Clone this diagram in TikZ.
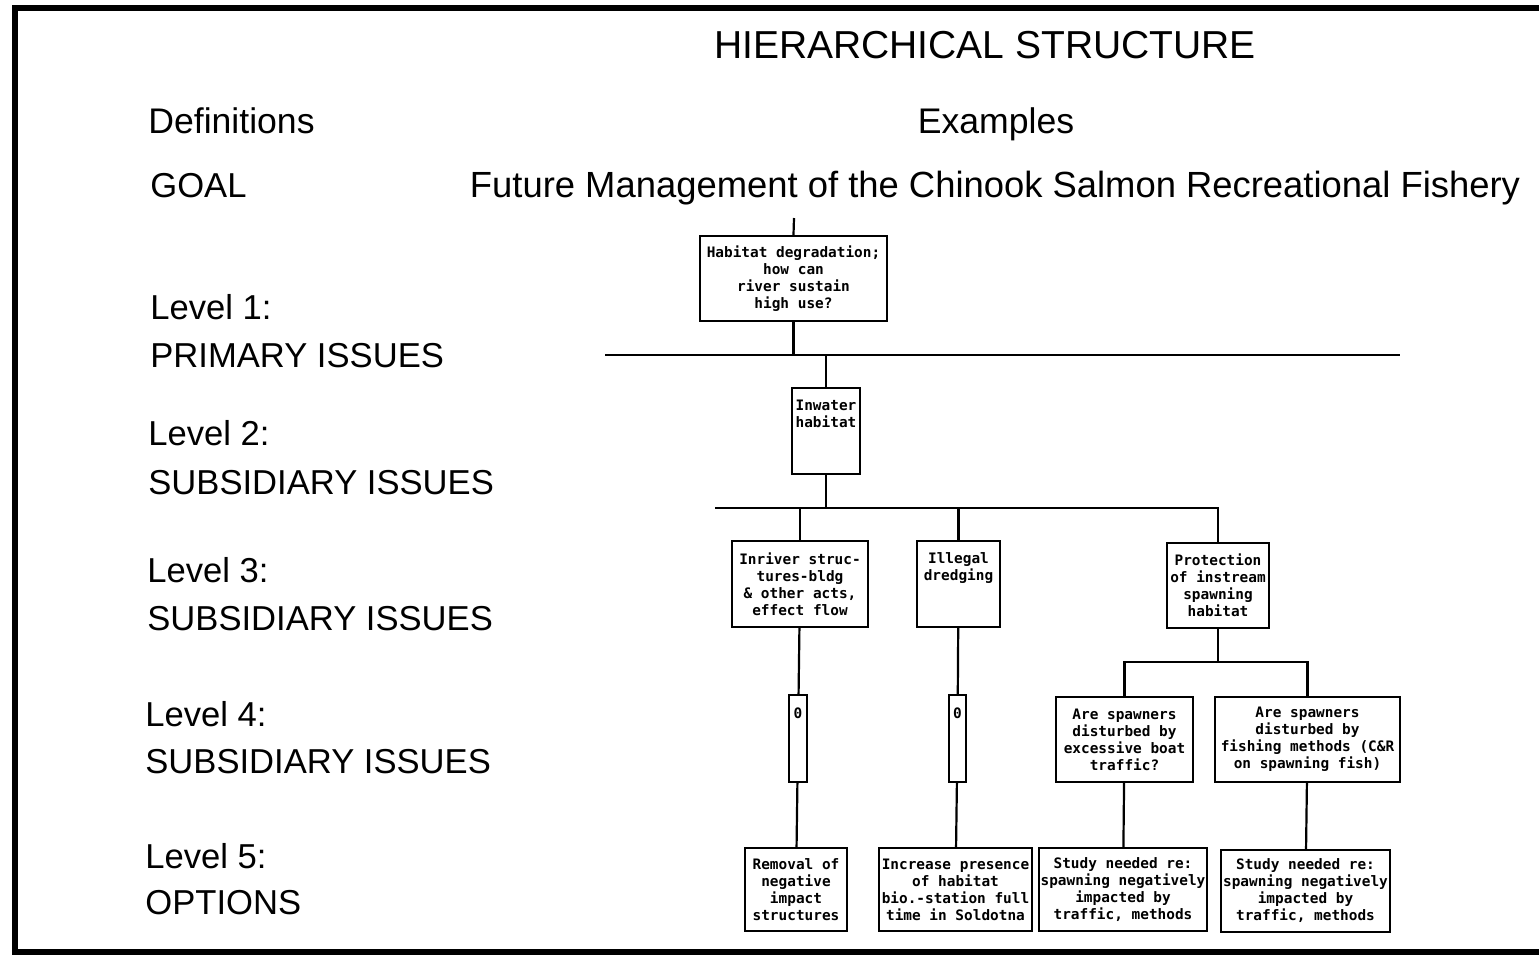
\documentclass[tikz,border=0pt]{standalone}
\usepackage{fontspec}
\setmainfont{Liberation Sans}
\newfontfamily\boxfamily{DejaVu Sans Mono}
\begin{document}
\begin{tikzpicture}[x=0.5pt,y=-0.5pt,
  box/.style={draw, line width=1.2pt, inner xsep=0.5pt, inner ysep=1pt, align=center,
    font=\boxfamily\bfseries\fontsize{7.2}{8.5}\selectfont},
  lab/.style={anchor=base west, inner sep=0pt, font=\fontsize{17.3}{20}\selectfont},
  conn/.style={line width=1.1pt},
  frame/.style={line width=2.6pt}]
\useasboundingbox (0,0) rectangle (1539,955);
% frame
\coordinate (f1) at (1539,8);
\coordinate (f2) at (15,8);
\coordinate (f3) at (15,952);
\coordinate (f4) at (1539,952);
\draw[frame] (f1) -- (f2) -- (f3) -- (f4);
% titles
\node[inner sep=0pt, anchor=base, font=\fontsize{19.5}{22}\selectfont] (title) at (985,58) {HIERARCHICAL STRUCTURE};
\node[lab, font=\fontsize{17.8}{20}\selectfont] (def) at (148,133) {Definitions};
\node[lab, anchor=base, font=\fontsize{17.8}{20}\selectfont] (ex) at (996,133) {Examples};
\node[lab] (goal) at (150,197) {GOAL};
\node[lab, anchor=base, font=\fontsize{18.2}{20}\selectfont] (goaltxt) at (995,197) {Future Management of the Chinook Salmon Recreational Fishery};
\node[lab] (l1) at (150,319) {Level 1:};
\node[lab] (l1b) at (150,367) {PRIMARY ISSUES};
\node[lab] (l2) at (148,445) {Level 2:};
\node[lab] (l2b) at (148,494) {SUBSIDIARY ISSUES};
\node[lab] (l3) at (147,582) {Level 3:};
\node[lab] (l3b) at (147,630) {SUBSIDIARY ISSUES};
\node[lab] (l4) at (145,726) {Level 4:};
\node[lab] (l4b) at (145,773) {SUBSIDIARY ISSUES};
\node[lab] (l5) at (145,868) {Level 5:};
\node[lab] (l5b) at (145,914) {OPTIONS};
% boxes
\node[box, minimum width=93.5pt, minimum height=42.5pt] (b1) at (793.5,278.5) {Habitat degradation;\\how can\\river sustain\\high use?};
\node[box, minimum width=34pt, minimum height=43pt] (b2) at (826,431) {Inwater\\habitat\\~\\~};
\node[box, minimum width=68pt, minimum height=43pt] (b3) at (800,584) {Inriver struc-\\tures-bldg\\\& other acts,\\effect flow};
\node[box, minimum width=41.5pt, minimum height=43pt] (b4) at (958.5,584) {Illegal\\dredging\\~\\~};
\node[box, minimum width=51pt, minimum height=42.5pt] (b5) at (1218,585.5) {Protection\\of instream\\spawning\\habitat};
\node[box, minimum width=9pt, minimum height=43.5pt] (sa) at (798,738.5) {0\\~\\~\\~};
\node[box, minimum width=8.5pt, minimum height=43.5pt] (sb) at (957.5,738.5) {0\\~\\~\\~};
\node[box, minimum width=68.5pt, minimum height=42.5pt] (b6) at (1124.5,739.5) {Are spawners\\disturbed by\\excessive boat\\traffic?};
\node[box, minimum width=92.5pt, minimum height=42.5pt] (b7) at (1307.5,739.5) {Are spawners\\disturbed by\\fishing methods (C\&R\\on spawning fish)};
\node[box, minimum width=51pt, minimum height=41.5pt] (b8) at (796,889.5) {Removal of\\negative\\impact\\structures};
\node[box, minimum width=76.5pt, minimum height=41.5pt] (b9) at (955.5,889.5) {Increase presence\\of habitat\\bio.-station full\\time in Soldotna};
\node[box, minimum width=84pt, minimum height=41.5pt] (b10) at (1123,889.5) {Study needed re:\\spawning negatively\\impacted by\\traffic, methods};
\node[box, minimum width=84.5pt, minimum height=41pt] (b11) at (1305.5,891) {Study needed re:\\spawning negatively\\impacted by\\traffic, methods};
% connectors
\coordinate (gtop) at (794,218);
\coordinate (h1l) at (605,355);
\coordinate (h1r) at (1400,355);
\coordinate (h2l) at (715,508);
\coordinate (h3) at (1218,662);
\draw[conn] (gtop) -- (b1.north);
\draw[conn] (h1l) -- (h1r);
\draw[conn] (b1.south) -- (b1.south |- h1l);
\draw[conn] (b2.north) -- (b2.north |- h1l);
\draw[conn] (b2.south) -- (b2.south |- h2l);
\draw[conn] (h2l) -- (h2l -| b5.north) -- (b5.north);
\draw[conn] (b3.north) -- (b3.north |- h2l);
\draw[conn] (b4.north) -- (b4.north |- h2l);
\draw[conn] (b3) -- (sa);
\draw[conn] (sa) -- (b8);
\draw[conn] (b4) -- (sb);
\draw[conn] (sb) -- (b9);
\draw[conn] (b5.south) -- (h3);
\draw[conn] (b6.north) |- (h3) -| (b7.north);
\draw[conn] (b6) -- (b10);
\draw[conn] (b7) -- (b11);
\end{tikzpicture}
\end{document}
